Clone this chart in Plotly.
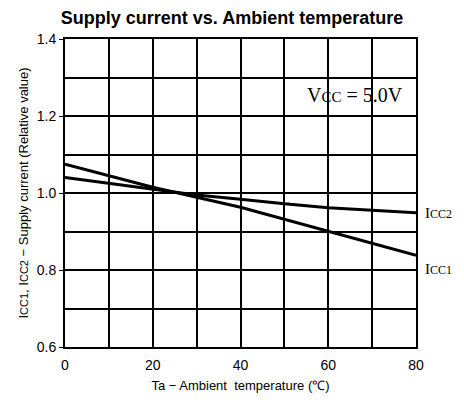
import plotly.graph_objects as go

temps = [0, 20, 40, 60, 80]
icc1 = [1.075, 1.015, 0.963, 0.900, 0.838]
temps2 = [0, 10, 20, 30, 40, 50, 60, 70, 80]
icc2 = [1.040, 1.025, 1.010, 0.995, 0.984, 0.972, 0.962, 0.955, 0.949]
x_ticks = [0, 20, 40, 60, 80]
y_ticks = [0.6, 0.8, 1.0, 1.2, 1.4]
y_tick_labels = ["0.6", "0.8", "1.0", "1.2", "1.4"]

fig = go.Figure()
fig.add_trace(go.Scatter(x=temps, y=icc1, mode="lines", line=dict(color="black", width=3), showlegend=False))
fig.add_trace(go.Scatter(x=temps2, y=icc2, mode="lines", line=dict(color="black", width=3), showlegend=False))

axis_font = dict(family="Liberation Sans, Arial", size=14, color="black")
fig.update_layout(
    width=448, height=390,
    margin=dict(l=57, r=40, t=31, b=51),
    paper_bgcolor="white", plot_bgcolor="white",
    title=dict(text="<b>Supply current vs. Ambient temperature</b>", x=(232 - 8) / 448, xanchor="center",
               y=1 - 10 / 390, yanchor="middle",
               font=dict(family="Liberation Sans, Arial", size=18, color="black")),
    xaxis=dict(range=[0, 80], tickvals=x_ticks, ticktext=[str(v) for v in x_ticks],
               showgrid=True, gridcolor="black", gridwidth=1.5,
               minor=dict(dtick=10, showgrid=True, gridcolor="black", gridwidth=1.5),
               showline=True, linecolor="black", linewidth=2, mirror=True,
               ticks="", tickfont=axis_font, zeroline=False, automargin=False, ticklabelstandoff=4,
               title=dict(text="Ta − Ambient  temperature (℃)", font=dict(family="Liberation Sans, Arial", size=13, color="black"), standoff=9)),
    yaxis=dict(range=[0.6, 1.4], tickvals=y_ticks, ticktext=y_tick_labels,
               showgrid=True, gridcolor="black", gridwidth=1.5,
               minor=dict(dtick=0.1, tick0=0.6, showgrid=True, gridcolor="black", gridwidth=1.5),
               showline=True, linecolor="black", linewidth=2, mirror=True,
               ticks="outside", ticklen=4, tickcolor="black", tickfont=axis_font, zeroline=False, automargin=False,
               title=dict(text="I<span style='font-size:11px'>CC1</span>, I<span style='font-size:11px'>CC2</span> − Supply current (Relative value)",
                          font=dict(family="Liberation Sans, Arial", size=13, color="black"), standoff=5)),
)

serif = dict(family="Liberation Serif, Times New Roman", size=20, color="black")
fig.add_annotation(text="V<span style='font-size:15px'>CC</span> = 5.0V", x=0.684, y=0.819, xref="paper", yref="paper",
                   xanchor="left", yanchor="middle", showarrow=False, font=serif)
serif2 = dict(family="Liberation Serif, Times New Roman", size=15, color="black")
fig.add_annotation(text="I<span style='font-size:12px'>CC2</span>", x=1.02, y=0.948, xref="paper", yref="y",
                   xanchor="left", showarrow=False, font=serif2)
fig.add_annotation(text="I<span style='font-size:12px'>CC1</span>", x=1.02, y=0.803, xref="paper", yref="y",
                   xanchor="left", showarrow=False, font=serif2)

fig.write_html("out.html")
